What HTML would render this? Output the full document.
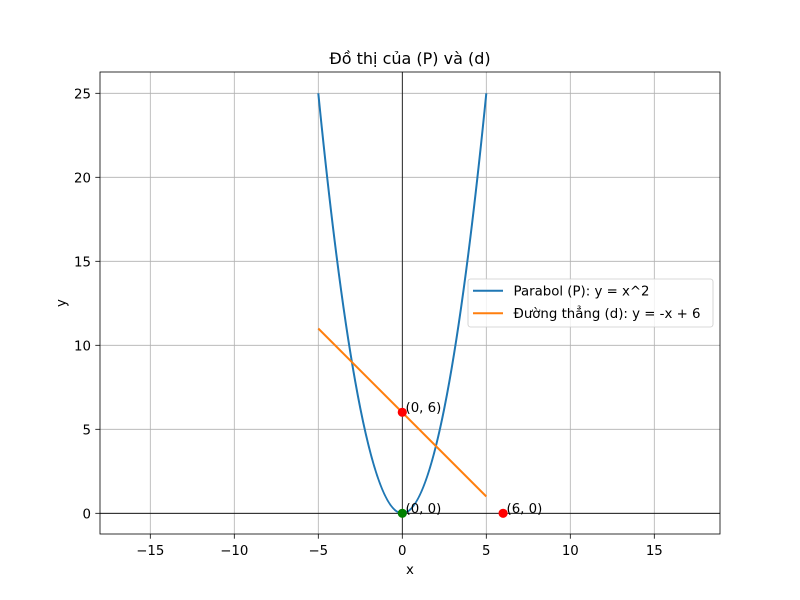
<!DOCTYPE html>
<html><head><meta charset="utf-8"><style>
html,body{margin:0;padding:0;background:#fff;}
svg{display:block;}
text{font-family:"DejaVu Sans","Liberation Sans",sans-serif;fill:#000;}
</style></head><body>
<svg width="800" height="600" viewBox="0 0 800 600" xmlns="http://www.w3.org/2000/svg">
<rect width="800" height="600" fill="#fff"/>
<!-- grid -->
<g stroke="#b0b0b0" stroke-width="0.8">
<line x1="150.3" y1="72" x2="150.3" y2="534"/>
<line x1="234.3" y1="72" x2="234.3" y2="534"/>
<line x1="318.3" y1="72" x2="318.3" y2="534"/>
<line x1="402.3" y1="72" x2="402.3" y2="534"/>
<line x1="486.3" y1="72" x2="486.3" y2="534"/>
<line x1="570.3" y1="72" x2="570.3" y2="534"/>
<line x1="654.3" y1="72" x2="654.3" y2="534"/>
<line x1="100" y1="513.3" x2="720" y2="513.3"/>
<line x1="100" y1="429.3" x2="720" y2="429.3"/>
<line x1="100" y1="345.3" x2="720" y2="345.3"/>
<line x1="100" y1="261.3" x2="720" y2="261.3"/>
<line x1="100" y1="177.3" x2="720" y2="177.3"/>
<line x1="100" y1="93.3" x2="720" y2="93.3"/>
</g>
<!-- zero axes -->
<line x1="100" y1="513.3" x2="720" y2="513.3" stroke="#000" stroke-width="0.8"/>
<line x1="402.3" y1="72" x2="402.3" y2="534" stroke="#000" stroke-width="0.8"/>
<!-- series -->
<path d="M318.3,93.3 Q402.3,933.3 486.3,93.3" fill="none" stroke="#1f77b4" stroke-width="2"/>
<line x1="318.3" y1="328.5" x2="486.3" y2="496.5" stroke="#ff7f0e" stroke-width="2"/>
<!-- points -->
<circle cx="402.3" cy="412.3" r="4.6" fill="#ff0000"/>
<circle cx="503.1" cy="513.3" r="4.6" fill="#ff0000"/>
<circle cx="402.3" cy="513.3" r="4.6" fill="#008000"/>
<g font-size="13.33">
<text x="405.5" y="412">(0, 6)</text>
<text x="405.5" y="513">(0, 0)</text>
<text x="506.5" y="513">(6, 0)</text>
</g>
<!-- frame -->
<rect x="100" y="72" width="620" height="462" fill="none" stroke="#000" stroke-width="0.8"/>
<!-- ticks -->
<g stroke="#000" stroke-width="0.8">
<line x1="150.3" y1="534" x2="150.3" y2="538.7"/>
<line x1="234.3" y1="534" x2="234.3" y2="538.7"/>
<line x1="318.3" y1="534" x2="318.3" y2="538.7"/>
<line x1="402.3" y1="534" x2="402.3" y2="538.7"/>
<line x1="486.3" y1="534" x2="486.3" y2="538.7"/>
<line x1="570.3" y1="534" x2="570.3" y2="538.7"/>
<line x1="654.3" y1="534" x2="654.3" y2="538.7"/>
<line x1="95.3" y1="513.3" x2="100" y2="513.3"/>
<line x1="95.3" y1="429.3" x2="100" y2="429.3"/>
<line x1="95.3" y1="345.3" x2="100" y2="345.3"/>
<line x1="95.3" y1="261.3" x2="100" y2="261.3"/>
<line x1="95.3" y1="177.3" x2="100" y2="177.3"/>
<line x1="95.3" y1="93.3" x2="100" y2="93.3"/>
</g>
<g font-size="13.33" text-anchor="middle">
<text x="150.3" y="555">−15</text>
<text x="234.3" y="555">−10</text>
<text x="318.3" y="555">−5</text>
<text x="402.3" y="555">0</text>
<text x="486.3" y="555">5</text>
<text x="570.3" y="555">10</text>
<text x="654.3" y="555">15</text>
</g>
<g font-size="13.33" text-anchor="end">
<text x="91" y="518.3">0</text>
<text x="91" y="434.3">5</text>
<text x="91" y="350.3">10</text>
<text x="91" y="266.3">15</text>
<text x="91" y="182.3">20</text>
<text x="91" y="98.3">25</text>
</g>
<text x="410" y="574" font-size="13.33" text-anchor="middle">x</text>
<text transform="translate(65.5,303) rotate(-90)" font-size="13.33" text-anchor="middle">y</text>
<text x="410" y="64" font-size="16" text-anchor="middle">Đồ thị của (P) và (d)</text>
<!-- legend -->
<rect x="468" y="279" width="245" height="48" rx="2.5" fill="#fff" fill-opacity="0.8" stroke="#cccccc" stroke-width="0.8"/>
<line x1="473" y1="290.7" x2="503" y2="290.7" stroke="#1f77b4" stroke-width="2"/>
<line x1="473" y1="313.3" x2="503" y2="313.3" stroke="#ff7f0e" stroke-width="2"/>
<text x="513.5" y="295.5" font-size="13.33">Parabol (P): y = x^2</text>
<text x="513.5" y="318" font-size="13.33">Đường thẳng (d): y = -x + 6</text>
</svg>
</body></html>
